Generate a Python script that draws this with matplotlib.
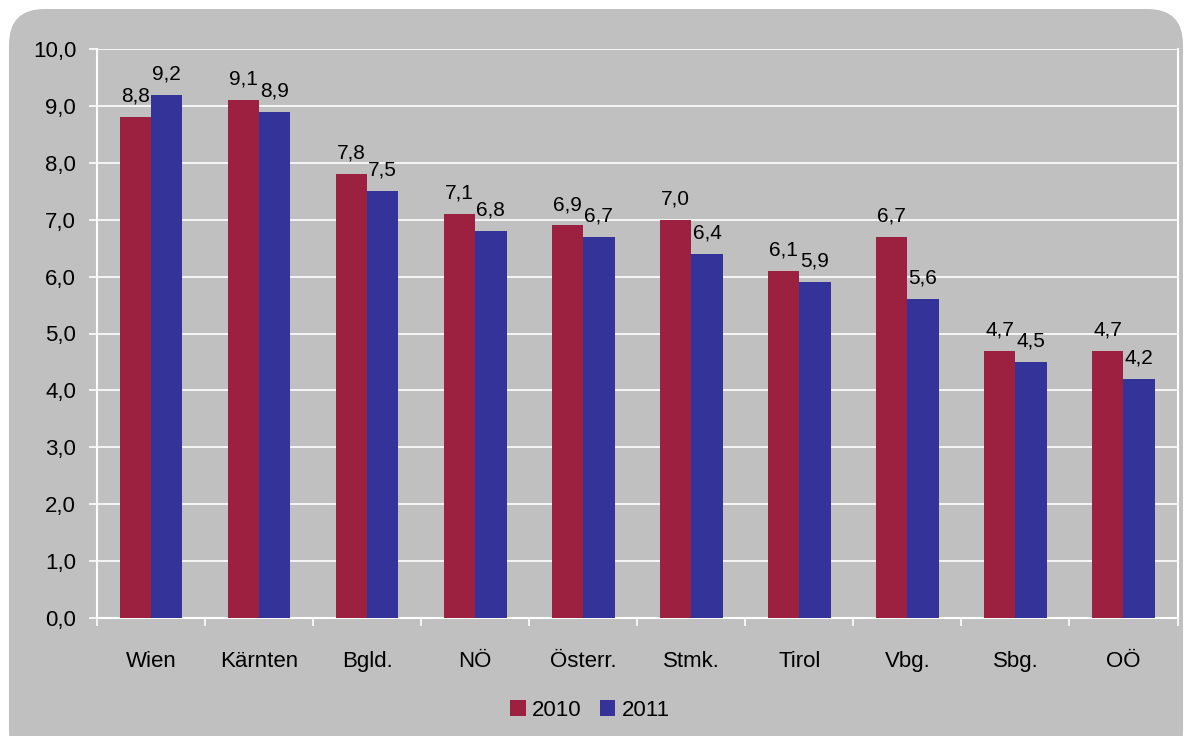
import matplotlib.pyplot as plt
import numpy as np
from matplotlib.patches import FancyBboxPatch

# Data
categories = ["Wien", "Kärnten", "Bgld.", "NÖ", "Österr.", "Stmk.", "Tirol", "Vbg.", "Sbg.", "OÖ"]
values_2010 = [8.8, 9.1, 7.8, 7.1, 6.9, 7.0, 6.1, 6.7, 4.7, 4.7]
values_2011 = [9.2, 8.9, 7.5, 6.8, 6.7, 6.4, 5.9, 5.6, 4.5, 4.2]
yticks = [0, 1, 2, 3, 4, 5, 6, 7, 8, 9, 10]

red = "#9C2140"
blue = "#333399"
gray = "#C0C0C0"

plt.rcParams["font.family"] = ["Liberation Sans", "DejaVu Sans"]

fig = plt.figure(figsize=(11.87, 7.36), dpi=100)
fig.patch.set_facecolor("white")

# rounded gray panel behind everything
W, H = 1187, 736
panel = FancyBboxPatch((9 / W, -30 / H), 1174 / W, (727 + 30) / H,
                       boxstyle="round,pad=0,rounding_size=0.03",
                       transform=fig.transFigure, facecolor=gray,
                       edgecolor="none", mutation_aspect=W / H, zorder=-5)
fig.patches.append(panel)

ax = fig.add_axes([97 / W, 1 - 618 / H, (1177.5 - 97) / W, (618 - 49) / H])
ax.set_facecolor(gray)
ax.set_zorder(2)

x = np.arange(len(categories))
w = 0.29
b1 = ax.bar(x - w / 2, values_2010, w, color=red, label="2010", zorder=3)
b2 = ax.bar(x + w / 2, values_2011, w, color=blue, label="2011", zorder=3)

def fmt(v):
    return f"{v:.1f}".replace(".", ",")

for bars, vals in ((b1, values_2010), (b2, values_2011)):
    for bar, v in zip(bars, vals):
        ax.text(bar.get_x() + bar.get_width() / 2, v + 0.2, fmt(v),
                ha="center", va="bottom", fontsize=15, color="black", zorder=4)

ax.set_xlim(-0.5, len(categories) - 0.5)
ax.set_ylim(0, 10)
ax.set_yticks(yticks)
ax.set_yticklabels([fmt(v) for v in yticks], fontsize=16)
ax.yaxis.grid(True, color="white", linewidth=1.2, zorder=1)

ax.set_xticks(x)
ax.set_xticklabels(categories, fontsize=16)
ax.set_xticks(np.arange(-0.5, len(categories), 1), minor=True)
ax.tick_params(axis="x", which="major", length=0, pad=24)
ax.tick_params(axis="x", which="minor", length=6, color="white", width=1.2)
ax.tick_params(axis="y", length=6, color="white", width=1.2, pad=9)

for side in ("left", "right", "bottom"):
    ax.spines[side].set_color("white")
    ax.spines[side].set_linewidth(1.5)
ax.spines["top"].set_visible(False)

leg = fig.legend(handles=[b1, b2], labels=["2010", "2011"], loc="center",
                 bbox_to_anchor=(590 / W, 1 - 710 / H), ncol=2, frameon=False,
                 fontsize=16, handlelength=0.7, handleheight=0.7,
                 handletextpad=0.3, columnspacing=0.8)

fig.savefig("out.png", dpi=100, facecolor=fig.get_facecolor())
